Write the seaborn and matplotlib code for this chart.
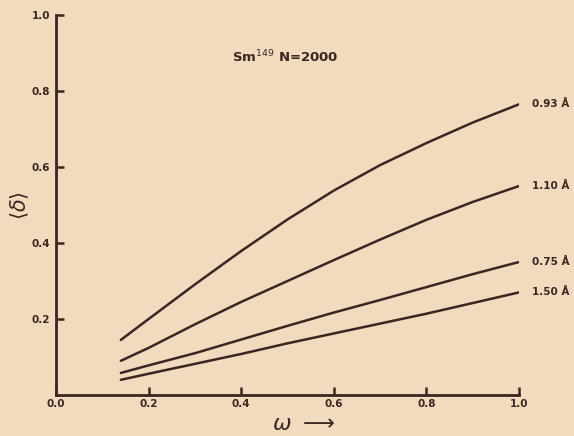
import pandas as pd
import matplotlib
matplotlib.use('Agg')
import matplotlib.pyplot as plt
import seaborn as sns

# values
omega = [0.14, 0.2, 0.3, 0.4, 0.5, 0.6, 0.7, 0.8, 0.9, 1.0]
delta_093 = [0.145, 0.2, 0.291, 0.379, 0.462, 0.538, 0.605, 0.663, 0.717, 0.765]
delta_110 = [0.09, 0.124, 0.186, 0.245, 0.30, 0.355, 0.409, 0.461, 0.508, 0.55]
delta_075 = [0.058, 0.078, 0.11, 0.146, 0.182, 0.217, 0.25, 0.284, 0.318, 0.35]
delta_150 = [0.04, 0.056, 0.082, 0.108, 0.136, 0.162, 0.188, 0.214, 0.242, 0.27]
labels = ['0.93 Å', '1.10 Å', '0.75 Å', '1.50 Å']
x_ticks = [0.0, 0.2, 0.4, 0.6, 0.8, 1.0]
y_ticks = [0.2, 0.4, 0.6, 0.8, 1.0]

series = [delta_093, delta_110, delta_075, delta_150]
df = pd.concat([
    pd.DataFrame({'omega': omega, 'delta': vals, 'curve': lab})
    for vals, lab in zip(series, labels)
])

bg = '#f1dabd'
ink = '#3b2622'

sns.set_style('ticks')
plt.rcParams['font.family'] = ['DejaVu Sans']

fig = plt.figure(figsize=(5.74, 4.36), dpi=100, facecolor=bg)
ax = fig.add_axes([0.0976, 0.094, 0.8066, 0.8716])
ax.set_facecolor(bg)

sns.lineplot(data=df, x='omega', y='delta', hue='curve',
             palette=[ink] * 4, linewidth=1.8, legend=False, ax=ax)

# curve labels at the right end
for vals, lab in zip(series, labels):
    ax.text(1.028, vals[-1], lab, ha='left', va='center', fontsize=7.5,
            fontweight='bold', color=ink, clip_on=False)

ax.text(0.495, 0.89, r'Sm$^{149}$ N=2000', ha='center', va='center',
        fontsize=9.5, fontweight='bold', color=ink)

ax.set_xlim(0, 1.0)
ax.set_ylim(0, 1.0)
ax.set_xticks(x_ticks)
ax.set_yticks(y_ticks)
ax.set_xticklabels([f'{t:.1f}' for t in x_ticks], fontsize=7.5, fontweight='bold', color=ink)
ax.set_yticklabels([f'{t:.1f}' for t in y_ticks], fontsize=7.5, fontweight='bold', color=ink)
ax.tick_params(direction='in', length=6, width=1.8, color=ink, pad=3)
ax.tick_params(axis='y', pad=4)

sns.despine(ax=ax)
for s in ['left', 'bottom']:
    ax.spines[s].set_linewidth(2)
    ax.spines[s].set_color(ink)

ax.set_xlabel(r'$\omega\ \longrightarrow$', fontsize=16, color=ink)
ax.xaxis.set_label_coords(0.535, -0.05)
ax.set_ylabel(r'$\langle\delta\rangle$', fontsize=15, color=ink)
ax.yaxis.set_label_coords(-0.055, 0.5)

fig.savefig('out.png', dpi=100, facecolor=bg)
